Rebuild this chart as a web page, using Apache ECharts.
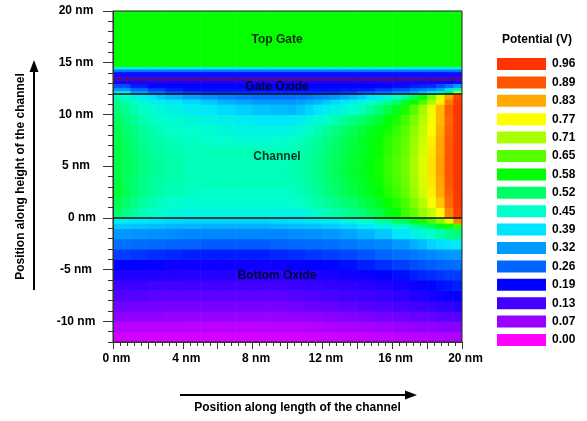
<!DOCTYPE html>
<html>
<head>
<meta charset="utf-8">
<script src="https://cdn.jsdelivr.net/npm/echarts@6/dist/echarts.min.js"></script>
<style>
  html, body { margin: 0; padding: 0; background: #fff; }
  #chart { width: 587px; height: 421px; }
</style>
</head>
<body>
<div id="chart"></div>
<script>
// Electrostatic potential (V) over the device cross-section.
// Cell edges along the channel length (nm) for the oxides and the gate.
const xEdges = [0, 1, 2, 3, 4, 5, 6, 7, 8, 9, 10, 11, 12, 13, 14, 15, 16, 17, 17.5, 18, 18.5, 19, 19.5, 20];
// Finer cell edges inside the channel (nm).
const channelXEdges = [0, 0.5, 1, 1.5, 2, 2.5, 3, 4, 5, 6, 7, 8, 9, 10,
  10.5, 11, 11.5, 12, 12.5, 13, 13.5, 14, 14.5, 15, 15.5, 16, 16.5, 17, 17.5, 18, 18.5, 19, 19.5, 20];

// Cell edges along the height (nm) of each layer.
const bottomOxideY = [-12, -11, -10, -9, -8, -7, -6, -5, -4, -3, -2, -1, -0.5, 0];
const channelY = [0, 1, 2, 3, 4, 5, 6, 7, 8, 9, 10, 11, 11.5, 12];
const gateOxideY = [12, 12.3, 12.6, 13, 13.3, 13.6, 13.85, 14.15, 14.4, 14.65];
const topGateY = [14.65, 20];

// Bottom oxide, rows from -12 nm upward
const bottomOxide = [
  [0.030,0.030,0.029,0.028,0.028,0.028,0.028,0.028,0.028,0.028,0.029,0.030,0.032,0.034,0.036,0.038,0.040,0.042,0.044,0.046,0.048,0.050,0.050],
  [0.045,0.045,0.044,0.043,0.042,0.042,0.042,0.042,0.042,0.043,0.044,0.046,0.050,0.053,0.056,0.060,0.065,0.068,0.070,0.072,0.075,0.078,0.080],
  [0.070,0.070,0.068,0.066,0.065,0.065,0.065,0.065,0.065,0.066,0.068,0.070,0.075,0.080,0.085,0.090,0.095,0.100,0.100,0.105,0.110,0.110,0.115],
  [0.095,0.095,0.090,0.090,0.090,0.090,0.090,0.090,0.090,0.090,0.095,0.100,0.105,0.110,0.115,0.120,0.125,0.130,0.135,0.140,0.145,0.150,0.155],
  [0.115,0.115,0.110,0.110,0.110,0.110,0.110,0.110,0.110,0.110,0.115,0.120,0.125,0.130,0.135,0.140,0.150,0.160,0.165,0.170,0.180,0.185,0.190],
  [0.135,0.135,0.130,0.130,0.130,0.130,0.130,0.130,0.130,0.130,0.135,0.140,0.145,0.150,0.155,0.160,0.170,0.180,0.185,0.190,0.200,0.205,0.210],
  [0.165,0.165,0.160,0.160,0.155,0.155,0.155,0.155,0.155,0.155,0.160,0.165,0.170,0.175,0.180,0.190,0.200,0.210,0.215,0.220,0.225,0.230,0.230],
  [0.190,0.190,0.185,0.180,0.180,0.180,0.180,0.180,0.180,0.180,0.185,0.190,0.195,0.200,0.210,0.220,0.230,0.240,0.245,0.250,0.255,0.260,0.265],
  [0.230,0.225,0.220,0.215,0.210,0.210,0.210,0.210,0.210,0.215,0.220,0.225,0.230,0.235,0.245,0.255,0.270,0.280,0.290,0.300,0.310,0.315,0.320],
  [0.270,0.265,0.260,0.255,0.255,0.250,0.250,0.250,0.250,0.255,0.260,0.265,0.270,0.280,0.290,0.300,0.320,0.340,0.350,0.370,0.380,0.390,0.400],
  [0.320,0.315,0.310,0.305,0.300,0.300,0.300,0.300,0.300,0.300,0.305,0.310,0.320,0.330,0.345,0.360,0.390,0.410,0.430,0.450,0.470,0.490,0.500],
  [0.360,0.355,0.350,0.345,0.345,0.340,0.340,0.340,0.340,0.345,0.350,0.355,0.365,0.375,0.395,0.420,0.455,0.480,0.500,0.530,0.560,0.590,0.620],
  [0.400,0.390,0.380,0.375,0.370,0.370,0.370,0.370,0.370,0.375,0.380,0.390,0.405,0.425,0.450,0.480,0.520,0.560,0.590,0.630,0.680,0.750,0.860]
];

// Channel, rows from 0 nm upward (33 cells per row)
const channel = [
  [0.51,0.49,0.475,0.46,0.45,0.44,0.43,0.42,0.42,0.42,0.42,0.42,0.42,
   0.42,0.425,0.435,0.45,0.46,0.47,0.48,0.49,0.50,0.52,0.53,0.56,0.58,0.62,0.65,0.69,0.72,0.77,0.86,0.94],
  [0.53,0.51,0.49,0.475,0.465,0.455,0.445,0.44,0.44,0.44,0.44,0.44,0.44,
   0.445,0.45,0.46,0.47,0.48,0.49,0.50,0.51,0.525,0.54,0.555,0.58,0.60,0.63,0.67,0.71,0.76,0.81,0.88,0.95],
  [0.54,0.525,0.505,0.49,0.48,0.47,0.46,0.455,0.45,0.45,0.45,0.45,0.45,
   0.455,0.46,0.47,0.48,0.495,0.505,0.52,0.53,0.545,0.56,0.575,0.60,0.62,0.65,0.69,0.73,0.78,0.83,0.89,0.955],
  [0.535,0.52,0.505,0.49,0.48,0.475,0.465,0.46,0.46,0.46,0.46,0.46,0.46,
   0.46,0.465,0.475,0.485,0.50,0.515,0.525,0.54,0.55,0.565,0.585,0.61,0.63,0.655,0.695,0.735,0.785,0.835,0.895,0.955],
  [0.535,0.52,0.51,0.495,0.485,0.48,0.47,0.46,0.46,0.46,0.46,0.46,0.46,
   0.465,0.47,0.48,0.49,0.505,0.52,0.53,0.545,0.555,0.57,0.59,0.615,0.635,0.66,0.70,0.74,0.79,0.84,0.90,0.955],
  [0.535,0.52,0.51,0.495,0.485,0.48,0.47,0.46,0.46,0.46,0.46,0.46,0.46,
   0.465,0.47,0.48,0.49,0.505,0.52,0.53,0.545,0.555,0.57,0.59,0.615,0.635,0.66,0.70,0.74,0.79,0.84,0.90,0.955],
  [0.535,0.52,0.505,0.49,0.48,0.475,0.465,0.46,0.46,0.46,0.46,0.46,0.46,
   0.46,0.465,0.475,0.485,0.50,0.515,0.525,0.54,0.55,0.565,0.585,0.61,0.63,0.655,0.695,0.735,0.785,0.835,0.895,0.955],
  [0.53,0.515,0.50,0.485,0.475,0.47,0.46,0.455,0.45,0.445,0.44,0.44,0.445,
   0.45,0.46,0.47,0.48,0.495,0.51,0.52,0.535,0.55,0.565,0.58,0.605,0.625,0.65,0.69,0.73,0.78,0.835,0.895,0.955],
  [0.525,0.51,0.495,0.48,0.47,0.46,0.45,0.445,0.44,0.43,0.42,0.42,0.42,
   0.425,0.435,0.45,0.465,0.48,0.495,0.51,0.525,0.54,0.555,0.57,0.59,0.615,0.64,0.68,0.72,0.77,0.83,0.89,0.955],
  [0.515,0.50,0.48,0.465,0.455,0.45,0.44,0.43,0.42,0.41,0.40,0.39,0.39,
   0.395,0.405,0.42,0.435,0.45,0.465,0.48,0.495,0.51,0.525,0.545,0.57,0.595,0.625,0.665,0.71,0.76,0.82,0.885,0.955],
  [0.50,0.485,0.465,0.45,0.44,0.43,0.415,0.40,0.39,0.375,0.365,0.355,0.35,
   0.345,0.355,0.37,0.385,0.40,0.415,0.43,0.445,0.46,0.48,0.505,0.53,0.56,0.595,0.64,0.695,0.755,0.82,0.89,0.955],
  [0.49,0.47,0.45,0.435,0.42,0.41,0.395,0.375,0.36,0.34,0.33,0.32,0.32,
   0.32,0.325,0.335,0.345,0.36,0.375,0.39,0.405,0.42,0.44,0.46,0.48,0.51,0.545,0.58,0.63,0.70,0.78,0.87,0.95],
  [0.46,0.44,0.42,0.40,0.38,0.36,0.345,0.325,0.31,0.29,0.28,0.27,0.27,
   0.27,0.275,0.285,0.295,0.305,0.315,0.33,0.345,0.36,0.38,0.40,0.42,0.45,0.48,0.52,0.58,0.66,0.74,0.84,0.93]
];

// Gate oxide, rows from 12 nm upward
const gateOxide = [
  [0.42,0.33,0.27,0.24,0.23,0.22,0.22,0.22,0.22,0.22,0.22,0.22,0.22,0.23,0.25,0.27,0.30,0.33,0.36,0.40,0.46,0.55,0.72],
  [0.32,0.26,0.23,0.21,0.20,0.20,0.20,0.20,0.20,0.20,0.20,0.20,0.20,0.205,0.21,0.225,0.24,0.26,0.28,0.30,0.33,0.38,0.46],
  [0.24,0.21,0.195,0.19,0.19,0.19,0.19,0.19,0.19,0.19,0.19,0.19,0.19,0.19,0.19,0.195,0.20,0.21,0.215,0.22,0.24,0.27,0.32],
  [0.17,0.165,0.165,0.165,0.165,0.165,0.165,0.165,0.165,0.165,0.165,0.165,0.165,0.165,0.165,0.165,0.165,0.165,0.165,0.17,0.17,0.18,0.20],
  [0.12,0.12,0.12,0.12,0.12,0.12,0.12,0.12,0.12,0.12,0.12,0.12,0.12,0.12,0.12,0.12,0.12,0.12,0.12,0.12,0.12,0.12,0.12],
  [0.16,0.16,0.16,0.16,0.16,0.16,0.16,0.16,0.16,0.16,0.16,0.16,0.16,0.16,0.16,0.16,0.16,0.16,0.16,0.16,0.16,0.16,0.16],
  [0.205,0.205,0.205,0.205,0.205,0.205,0.205,0.205,0.205,0.205,0.205,0.205,0.205,0.205,0.205,0.205,0.205,0.205,0.205,0.205,0.205,0.205,0.205],
  [0.28,0.28,0.28,0.28,0.28,0.28,0.28,0.28,0.28,0.28,0.28,0.28,0.28,0.28,0.28,0.28,0.28,0.28,0.28,0.28,0.28,0.28,0.28],
  [0.40,0.40,0.40,0.40,0.40,0.40,0.40,0.40,0.40,0.40,0.40,0.40,0.40,0.40,0.40,0.40,0.40,0.40,0.40,0.40,0.40,0.40,0.40]
];

// Top gate (14.65 nm to 20 nm)
const topGate = [
  [0.58,0.58,0.58,0.58,0.58,0.58,0.58,0.58,0.58,0.58,0.58,0.58,0.58,0.58,0.58,0.58,0.58,0.58,0.58,0.58,0.58,0.58,0.58]
];

// Colour scale levels (V) and their colours
const levels = ['0.00','0.07','0.13','0.19','0.26','0.32','0.39','0.45','0.52','0.58','0.65','0.71','0.77','0.83','0.89','0.96'];
const levelColors = ['#ff00ff','#9900ff','#4400ff','#0000ff','#0066ff','#0099ff','#00e5ff','#00ffcc',
                     '#00ff66','#00ff00','#55ff00','#aaff00','#ffff00','#ffaa00','#ff5500','#ff3300'];

// Region names and where they sit (nm)
const regionNames = ['Top Gate', 'Gate Oxide', 'Channel', 'Bottom Oxide'];
const regionX = [9.4, 9.4, 9.4, 9.4];
const regionY = [17.2, 12.65, 5.9, -5.6];

// Material interfaces (nm)
const interfaces = [12, 0];
const gateOxideLine = 13.43;

// Axis ticks
const yMajorTicks = [-10, -5, 0, 5, 10, 15, 20];
const yMinorTicks = [-12, -11, -10, -9, -8, -7, -6, -5, -4, -3, -2, -1, 0, 1, 2, 3, 4, 5, 6, 7, 8, 9, 10,
                     11, 12, 13, 14, 15, 16, 17, 18, 19, 20];

const FONT = 'Liberation Sans, Arial, sans-serif';

// Each layer: its grid of values and the cell edges it is drawn on
const layers = [
  { values: bottomOxide, xs: xEdges, ys: bottomOxideY },
  { values: channel, xs: channelXEdges, ys: channelY },
  { values: gateOxide, xs: xEdges, ys: gateOxideY },
  { values: topGate, xs: xEdges, ys: topGateY }
];
const cells = [];
layers.forEach((layer, k) =>
  layer.values.forEach((row, j) => row.forEach((v, i) => cells.push([k, i, j, v]))));

const chart = echarts.init(document.getElementById('chart'), null, { renderer: 'canvas' });

chart.setOption({
  animation: false,
  backgroundColor: '#fff',
  textStyle: { fontFamily: FONT, fontWeight: 'bold', fontSize: 12, color: '#000' },
  title: {
    text: 'Potential (V)',
    left: 502, top: 34, padding: 0,
    textStyle: { fontFamily: FONT, fontWeight: 'bold', fontSize: 12, color: '#000' }
  },
  grid: {
    left: 113, right: 125, top: 11, bottom: 79,
    show: true, borderColor: '#222', borderWidth: 1,
    backgroundColor: 'transparent', z: 10
  },
  xAxis: {
    type: 'value', min: 0, max: 20, interval: 2, z: 10,
    axisLine: { show: true, onZero: false, lineStyle: { color: '#333', width: 1 } },
    axisTick: { show: true, length: 7, lineStyle: { color: '#333' } },
    minorTick: { show: true, splitNumber: 5, length: 4, lineStyle: { color: '#333' } },
    splitLine: { show: false }, minorSplitLine: { show: false },
    axisLabel: {
      color: '#000', fontFamily: FONT, fontWeight: 'bold', fontSize: 12, margin: 11,
      padding: [0, 0, 0, 7],
      formatter: v => (v % 4 === 0 ? v + ' nm' : '')
    },
    name: 'Position along length of the channel',
    nameLocation: 'middle', nameGap: 60,
    nameTextStyle: { color: '#000', fontFamily: FONT, fontWeight: 'bold', fontSize: 12, padding: [0, 0, 0, 20] }
  },
  yAxis: [
    {
      type: 'value', position: 'left', min: -12, max: 20, z: 10,
      axisLine: { show: true, onZero: false, lineStyle: { color: '#333', width: 1 } },
      axisTick: { show: true, length: 10, customValues: yMajorTicks, lineStyle: { color: '#333' } },
      axisLabel: {
        customValues: yMajorTicks, color: '#000', fontFamily: FONT, fontWeight: 'bold', fontSize: 12,
        align: 'center', margin: 37,
        formatter: v => (v === 0 ? '{zero|0 nm}' : v + ' nm'),
        rich: { zero: { fontFamily: FONT, fontWeight: 'bold', fontSize: 12, color: '#000', padding: [0, 0, 0, 12] } }
      },
      splitLine: { show: false },
      name: 'Position along height of the channel',
      nameLocation: 'middle', nameGap: 86,
      nameTextStyle: { color: '#000', fontFamily: FONT, fontWeight: 'bold', fontSize: 12 }
    },
    {
      type: 'value', position: 'left', min: -12, max: 20, z: 10,
      axisLine: { show: false, onZero: false },
      axisTick: { show: true, length: 5, customValues: yMinorTicks, lineStyle: { color: '#333' } },
      axisLabel: { show: false },
      splitLine: { show: false }
    }
  ],
  visualMap: [
    {
      type: 'continuous', show: false, seriesIndex: 0, dimension: 3,
      min: 0, max: 0.96,
      inRange: { color: levelColors }
    },
    {
      type: 'piecewise', show: true, seriesIndex: 2,
      orient: 'vertical', align: 'left', left: 497, top: 58, padding: 0,
      itemWidth: 49, itemHeight: 12, itemGap: 6.4, itemSymbol: 'rect', textGap: 6,
      selectedMode: false, hoverLink: false,
      textStyle: { color: '#000', fontFamily: FONT, fontWeight: 'bold', fontSize: 12 },
      pieces: levels.map((lab, k) => ({ value: Number(lab), label: lab, color: levelColors[k] }))
    }
  ],
  series: [
    {
      type: 'custom',
      xAxisIndex: 0, yAxisIndex: 0,
      data: cells,
      clip: true,
      silent: true,
      z: 2,
      renderItem: function (params, api) {
        const layer = layers[api.value(0)];
        const i = api.value(1), j = api.value(2);
        const p0 = api.coord([layer.xs[i], layer.ys[j + 1]]);
        const p1 = api.coord([layer.xs[i + 1], layer.ys[j]]);
        return {
          type: 'rect',
          shape: { x: p0[0], y: p0[1], width: p1[0] - p0[0] + 0.6, height: p1[1] - p0[1] + 0.6 },
          style: { fill: api.visual('color') }
        };
      }
    },
    {
      type: 'scatter',
      xAxisIndex: 0, yAxisIndex: 0,
      data: regionNames.map((n, k) => [regionX[k], regionY[k], n]),
      symbolSize: 0,
      silent: true,
      z: 6,
      label: {
        show: true, position: 'inside', formatter: p => p.value[2],
        color: '#000', fontFamily: FONT, fontWeight: 'bold', fontSize: 12
      }
    },
    {
      type: 'line',
      xAxisIndex: 0, yAxisIndex: 0,
      data: [],
      z: 5,
      markLine: {
        silent: true, symbol: ['none', 'none'], label: { show: false },
        data: [
          ...interfaces.map(v => ({ yAxis: v, lineStyle: { color: '#111', width: 1.5, type: 'solid' } })),
          { yAxis: gateOxideLine, lineStyle: { color: '#4b0a90', width: 3, type: 'solid' } }
        ]
      }
    }
  ],
  graphic: [
    { type: 'line', shape: { x1: 34, y1: 290, x2: 34, y2: 70 }, style: { stroke: '#000', lineWidth: 2 } },
    { type: 'polygon', shape: { points: [[34, 60], [29.5, 72], [38.5, 72]] }, style: { fill: '#000' } },
    { type: 'line', shape: { x1: 180, y1: 395, x2: 406, y2: 395 }, style: { stroke: '#000', lineWidth: 2 } },
    { type: 'polygon', shape: { points: [[417, 395], [405, 390.5], [405, 399.5]] }, style: { fill: '#000' } }
  ]
});
</script>
</body>
</html>
